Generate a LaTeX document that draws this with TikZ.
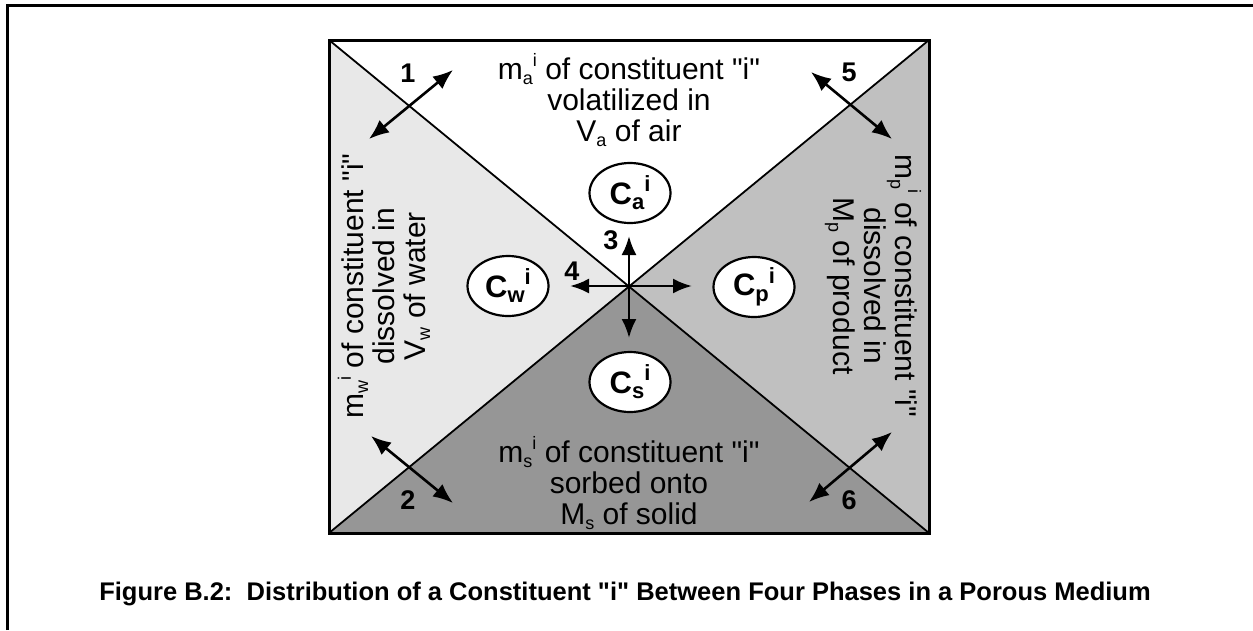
\documentclass[tikz,border=0pt]{standalone}
\usepackage{fontspec}
\setmainfont{Liberation Sans}[Ligatures=TeXOff]
\usetikzlibrary{arrows.meta,shapes.geometric}
\newcommand{\sbs}[1]{\raisebox{-0.3ex}{\fontsize{18}{18}\selectfont #1}}
\newcommand{\sps}[1]{\raisebox{0.8ex}{\fontsize{18}{18}\selectfont #1}}
\newcommand{\csb}[1]{\raisebox{-0.35ex}{\fontsize{22}{22}\selectfont #1}}
\newcommand{\csp}[1]{\raisebox{0.75ex}{\fontsize{22}{22}\selectfont #1}}
\definecolor{waterc}{HTML}{E8E8E8}
\definecolor{productc}{HTML}{C0C0C0}
\definecolor{solidc}{HTML}{969696}

\begin{document}
\begin{tikzpicture}[x=1pt,y=-1pt,
    phase/.style={ellipse,draw,line width=2.2pt,fill=white,minimum width=81pt,minimum height=60pt,inner sep=0pt,font=\bfseries\fontsize{31}{31}\selectfont},
    lbl/.style={align=center,font=\fontsize{30}{31}\selectfont},
    num/.style={font=\bfseries\fontsize{27}{27}\selectfont},
    flux/.style={line width=2.6pt,{Latex[length=20pt,width=16pt]}-{Latex[length=20pt,width=16pt]}},
    flow/.style={line width=2.6pt,-{Latex[length=19pt,width=15pt]}}]
    \useasboundingbox (0,0) rectangle (1253,630);
    \draw[line width=3pt] (7,630) -- (7,5) -- (1253,5);

    \coordinate (tl) at (329,40); \coordinate (tr) at (929,40);
    \coordinate (bl) at (329,533); \coordinate (br) at (929,533);
    \coordinate (o) at (629,286);
    \fill[waterc] (tl) -- (o) -- (bl) -- cycle;
    \fill[productc] (tr) -- (o) -- (br) -- cycle;
    \fill[solidc] (bl) -- (o) -- (br) -- cycle;
    \draw[line width=1.8pt] (tl) -- (br) (tr) -- (bl);
    \draw[line width=3pt] (tl) rectangle (br);

    \node[lbl] (air) at (629,100) {m\sbs{a}\sps{i} of constituent "i"\\volatilized in\\V\sbs{a} of air};
    \node[lbl,rotate=90] (water) at (384,286) {m\sbs{w}\sps{i} of constituent "i"\\dissolved in\\V\sbs{w} of water};
    \node[lbl,rotate=-90] (product) at (873,286) {m\sbs{p}\sps{i} of constituent "i"\\dissolved in\\M\sbs{p} of product};
    \node[lbl] (solid) at (629,483) {m\sbs{s}\sps{i} of constituent "i"\\sorbed onto\\M\sbs{s} of solid};

    \node[phase] (ca) at (630,193) {C\csb{a}\csp{i}};
    \node[phase] (cw) at (508,286) {C\csb{w}\csp{i}};
    \node[phase] (cp) at (754,287) {C\csb{p}\csp{i}};
    \node[phase] (cs) at (630,382) {C\csb{s}\csp{i}};

    \coordinate (up) at (629,236); \coordinate (dn) at (629,338);
    \coordinate (lf) at (570,286); \coordinate (rt) at (692,286);
    \draw[flow] (o) -- (up); \draw[flow] (o) -- (dn);
    \draw[flow] (o) -- (lf); \draw[flow] (o) -- (rt);
    \node[num] (n3) at (611,240) {3}; \node[num] (n4) at (572,271) {4};

    \coordinate (f1a) at (369,139); \coordinate (f1b) at (453,70);
    \coordinate (f2a) at (371,436); \coordinate (f2b) at (453,503);
    \coordinate (f5a) at (811,72); \coordinate (f5b) at (892,139);
    \coordinate (f6a) at (809,502); \coordinate (f6b) at (892,432);
    \draw[flux] (f1a) -- (f1b); \draw[flux] (f2a) -- (f2b);
    \draw[flux] (f5a) -- (f5b); \draw[flux] (f6a) -- (f6b);
    \node[num] (n1) at (408,73) {1}; \node[num] (n2) at (408,500) {2};
    \node[num] (n5) at (849,72) {5}; \node[num] (n6) at (849,500) {6};

    \node[font=\bfseries\fontsize{25.5}{25.5}\selectfont] (cap) at (625,594) {Figure B.2:\ \ Distribution of a Constituent "i" Between Four Phases in a Porous Medium};
\end{tikzpicture}
\end{document}
